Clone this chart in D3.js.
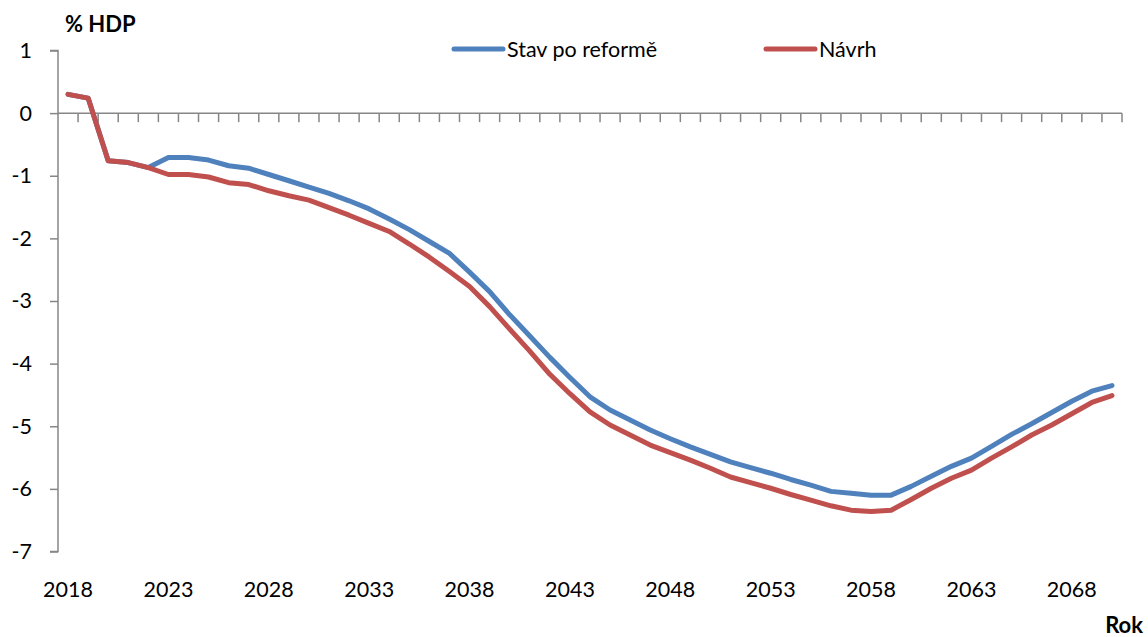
<!DOCTYPE html>
<html>
<head>
<meta charset="utf-8">
<script src="https://cdn.jsdelivr.net/npm/d3@7/dist/d3.min.js"></script>
<style>
  html, body { margin: 0; padding: 0; background: #fff; }
  svg { display: block; }
  text { font-family: Lato, "Open Sans", sans-serif; fill: #000; }
</style>
</head>
<body>
<svg id="chart" width="1148" height="637"></svg>
<script>
const years = d3.range(2018, 2071);
const stavPoReforme = [
  0.30, 0.24, -0.76, -0.79, -0.87, -0.71, -0.71, -0.75, -0.84, -0.88,
  -0.98, -1.08, -1.18, -1.28, -1.40, -1.53, -1.69, -1.86, -2.05, -2.24,
  -2.54, -2.85, -3.22, -3.56, -3.90, -4.22, -4.53, -4.74, -4.90, -5.06,
  -5.20, -5.33, -5.45, -5.57, -5.66, -5.75, -5.85, -5.94, -6.04, -6.07,
  -6.10, -6.10, -5.96, -5.80, -5.64, -5.51, -5.32, -5.13, -4.96, -4.78,
  -4.60, -4.44, -4.35
];
const navrh = [
  0.30, 0.24, -0.76, -0.79, -0.87, -0.98, -0.98, -1.02, -1.11, -1.14,
  -1.24, -1.32, -1.39, -1.51, -1.63, -1.76, -1.89, -2.09, -2.30, -2.53,
  -2.77, -3.09, -3.45, -3.80, -4.17, -4.48, -4.77, -4.98, -5.14, -5.30,
  -5.42, -5.54, -5.67, -5.81, -5.90, -5.99, -6.09, -6.18, -6.27, -6.34,
  -6.36, -6.34, -6.17, -5.99, -5.83, -5.70, -5.51, -5.33, -5.14, -4.98,
  -4.80, -4.62, -4.51
];
const seriesNames = ["Stav po reformě", "Návrh"];
const seriesColors = ["#4F81BD", "#C0504D"];
const yTicks = [1, 0, -1, -2, -3, -4, -5, -6, -7];
const xLabelYears = [2018, 2023, 2028, 2033, 2038, 2043, 2048, 2053, 2058, 2063, 2068];
const yTitle = "% HDP";
const xTitle = "Rok";

const svg = d3.select("#chart");
const axisColor = "#868686";

const x = d3.scaleBand().domain(years).range([58, 1122]).padding(0);
const y = d3.scaleLinear().domain([-7, 1]).range([551.5, 50.5]);
const cx = d => x(d) + x.bandwidth() / 2;

// y axis
const yAxis = svg.append("g").attr("transform", "translate(58,0)")
  .call(d3.axisLeft(y).tickValues(yTicks).tickSize(8).tickPadding(18).tickFormat(d3.format("d")));
yAxis.select(".domain").attr("stroke", axisColor).attr("stroke-width", 1.5).attr("d", `M-8,${y(1)}H0V${y(-7)}H-8`);
yAxis.selectAll(".tick line").attr("stroke", axisColor).attr("stroke-width", 1.5);
yAxis.selectAll(".tick text").style("font-size", "21.5px").attr("fill", "#000")
  .text(d => d < 0 ? "-" + Math.abs(d) : d);

// category axis at zero
const y0 = y(0);
svg.append("line").attr("x1", 58).attr("x2", x.range()[1]).attr("y1", y0).attr("y2", y0)
  .attr("stroke", axisColor).attr("stroke-width", 1.5);
const bounds = years.map(d => x(d)).concat([x.range()[1]]).slice(1);
svg.append("g").selectAll("line").data(bounds).join("line")
  .attr("x1", d => d).attr("x2", d => d).attr("y1", y0).attr("y2", y0 + 9)
  .attr("stroke", axisColor).attr("stroke-width", 1.5);

// x labels
svg.append("g").selectAll("text").data(xLabelYears).join("text")
  .attr("x", d => cx(d)).attr("y", 597).attr("text-anchor", "middle")
  .style("font-size", "21.5px").text(d => d);

// lines
const line = d3.line().x((d, i) => cx(years[i])).y(d => y(d));
[stavPoReforme, navrh].forEach((s, k) => {
  svg.append("path").datum(s).attr("d", line).attr("fill", "none")
    .attr("stroke", seriesColors[k]).attr("stroke-width", 5)
    .attr("stroke-linejoin", "round").attr("stroke-linecap", "round");
});

// legend
const legendX = [454, 766];
seriesNames.forEach((n, k) => {
  svg.append("line").attr("x1", legendX[k]).attr("x2", legendX[k] + 49)
    .attr("y1", 49).attr("y2", 49).attr("stroke", seriesColors[k])
    .attr("stroke-width", 5).attr("stroke-linecap", "round");
  svg.append("text").attr("x", legendX[k] + 53).attr("y", 57)
    .style("font-size", "21.5px").text(n);
});

// titles
svg.append("text").attr("x", 65).attr("y", 32).style("font-size", "22px")
  .style("font-weight", "bold").text(yTitle);
svg.append("text").attr("x", 1143).attr("y", 633).attr("text-anchor", "end")
  .style("font-size", "22px").style("font-weight", "bold").text(xTitle);
</script>
</body>
</html>
